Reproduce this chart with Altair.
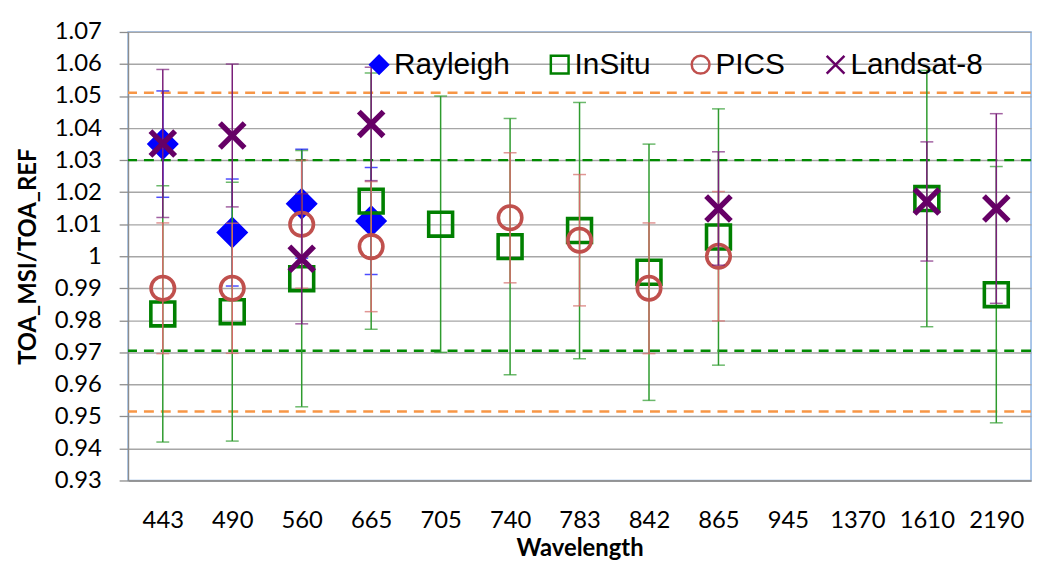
import altair as alt
import pandas as pd

WAVELENGTHS = ["443", "490", "560", "665", "705", "740", "783", "842", "865", "945", "1370", "1610", "2190"]
SERIES = ["Rayleigh", "InSitu", "PICS", "Landsat-8"]

RAYLEIGH = [1.035, 1.0074, 1.0164, 1.011, None, None, None, None, None, None, None, None, None]
RAYLEIGH_ERR = [0.0166, 0.0167, 0.017, 0.0167, None, None, None, None, None, None, None, None, None]
INSITU = [0.982, 0.9827, 0.993, 1.0172, 1.010, 1.003, 1.008, 0.995, 1.006, None, None, 1.018, 0.988]
INSITU_ERR = [0.040, 0.0404, 0.040, 0.040, 0.040, 0.040, 0.040, 0.040, 0.040, None, None, 0.040, 0.040]
PICS = [0.990, 0.990, 1.010, 1.003, None, 1.012, 1.005, 0.990, 1.000, None, None, None, None]
PICS_ERR = [0.0204, 0.0203, 0.020, 0.0203, None, 0.0203, 0.0205, 0.0204, 0.0202, None, None, None, None]
LANDSAT = [1.0352, 1.0377, 0.9992, 1.0413, None, None, None, None, 1.0149, None, None, 1.0171, 1.0149]
LANDSAT_ERR = [0.0231, 0.0223, 0.0203, 0.0177, None, None, None, None, 0.0177, None, None, 0.0186, 0.0296]

OUTER_LIMITS = [1.051, 0.9515]
INNER_LIMITS = [1.030, 0.9705]
Y_TICKS = [0.93, 0.94, 0.95, 0.96, 0.97, 0.98, 0.99, 1.00, 1.01, 1.02, 1.03, 1.04, 1.05, 1.06, 1.07]

rows = []
for name, vals, errs in [("Rayleigh", RAYLEIGH, RAYLEIGH_ERR), ("InSitu", INSITU, INSITU_ERR),
                         ("PICS", PICS, PICS_ERR), ("Landsat-8", LANDSAT, LANDSAT_ERR)]:
    for wl, v, e in zip(WAVELENGTHS, vals, errs):
        if v is not None:
            rows.append({"series": name, "wl": wl, "value": v, "lo": v - e, "hi": v + e})
df = pd.DataFrame(rows)

X_PATH = "M-1,-1L1,1M-1,1L1,-1"
MARK_STROKE = ["#0000FF", "#008000", "#C0504D", "#660066"]
MARK_FILL = ["#0000FF", "transparent", "transparent", "transparent"]
ERR_COLOR = {"Rayleigh": "#0000FF", "InSitu": "#2E9B2E", "PICS": "#D46A67", "Landsat-8": "#7A1F7A"}

y_scale = alt.Scale(domain=[0.93, 1.07], nice=False, zero=False)
x_scale = alt.Scale(domain=WAVELENGTHS, type="point", padding=0.5)
x_axis = alt.Axis(grid=False, ticks=False, tickSize=0, labelPadding=28, labelAngle=0,
                  title="Wavelength", titleY=76, titleBaseline="alphabetic")
y_axis = alt.Axis(values=Y_TICKS, format=".2~f", grid=True, tickSize=9, labelPadding=18,
                  title="TOA_MSI/TOA_REF", titleX=-100, titleY=226, titleAngle=270,
                  titleBaseline="middle", titleAlign="center")


def xenc():
    return alt.X("wl:N", scale=x_scale, axis=x_axis, sort=WAVELENGTHS)


def yenc(field):
    return alt.Y(f"{field}:Q", scale=y_scale, axis=y_axis)


legend = alt.Legend(orient="none", legendX=238, legendY=18, direction="horizontal", title=None,
                    labelFont="Liberation Sans", labelFontSize=30, labelColor="#000000",
                    symbolSize=320, symbolStrokeWidth=2.5, columnPadding=35, labelOffset=0,
                    padding=0)

base = alt.Chart(df)

layers = []
ref_df_outer = pd.DataFrame({"y": OUTER_LIMITS})
ref_df_inner = pd.DataFrame({"y": INNER_LIMITS})
layers.append(alt.Chart(ref_df_outer).mark_rule(color="#F79646", strokeWidth=2.5, strokeDash=[10, 7])
              .encode(y=yenc("y")))
layers.append(alt.Chart(ref_df_inner).mark_rule(color="#008A00", strokeWidth=2.5, strokeDash=[10, 7])
              .encode(y=yenc("y")))

for s in SERIES:
    sub = base.transform_filter(alt.datum.series == s)
    c = ERR_COLOR[s]
    layers.append(sub.mark_rule(color=c, strokeWidth=1.5).encode(x=xenc(), y=yenc("lo"), y2="hi:Q"))
    layers.append(sub.transform_fold(["lo", "hi"], as_=["k", "cap"])
                  .mark_tick(color=c, orient="horizontal", size=13, thickness=1.5)
                  .encode(x=xenc(), y=yenc("cap")))
    sw = 5.5 if s == "Landsat-8" else 3.6
    size = {"Rayleigh": 740, "InSitu": 580, "PICS": 560, "Landsat-8": 620}[s]
    layers.append(sub.mark_point(filled=False, strokeWidth=sw, size=size, opacity=1).encode(
        x=xenc(),
        y=yenc("value"),
        stroke=alt.Stroke("series:N", scale=alt.Scale(domain=SERIES, range=MARK_STROKE), legend=legend),
        fill=alt.Fill("series:N", scale=alt.Scale(domain=SERIES, range=MARK_FILL), legend=legend),
        shape=alt.Shape("series:N", scale=alt.Scale(domain=SERIES, range=["diamond", "square", "circle", X_PATH]),
                        legend=legend),
    ))

chart = alt.layer(*layers).properties(
    width=910, height=452,
    padding={"left": 121, "top": 22, "right": 4, "bottom": 83},
    autosize=alt.AutoSizeParams(type="none"),
    background="white",
).configure_view(stroke="#8DB3E2", strokeWidth=1.5).configure_axis(
    gridColor="#A6A6A6", gridWidth=1.3, domainColor="#8C8C8C", domainWidth=1.3,
    tickColor="#8C8C8C", tickWidth=1.3,
    labelColor="#000000", labelFont="Lato", labelFontSize=24,
    titleColor="#000000", titleFont="Lato", titleFontWeight="bold", titleFontSize=24,
)

chart.save("out.html", embed_options={"renderer": "svg", "actions": False})
